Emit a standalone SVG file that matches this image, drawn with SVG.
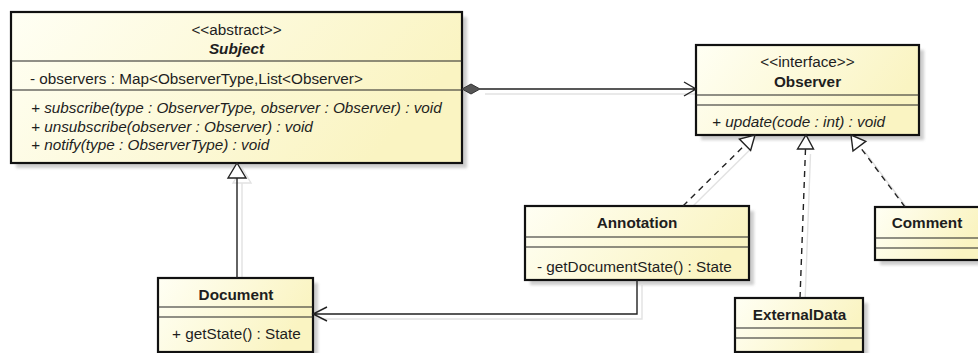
<svg xmlns="http://www.w3.org/2000/svg" width="978" height="353" viewBox="0 0 978 353">
  <defs>
    <linearGradient id="classFill" x1="0" y1="0" x2="1" y2="0.3">
      <stop offset="0" stop-color="#fffff4"/>
      <stop offset="1" stop-color="#faf4c2"/>
    </linearGradient>
    <filter id="soft" x="-10%" y="-10%" width="130%" height="130%">
      <feGaussianBlur stdDeviation="1.6"/>
    </filter>
  </defs>
  <style>
    text { font-family: "Liberation Sans", Arial, sans-serif; font-size: 15.3px; fill: #1e1e1e; }
    .c { text-anchor: middle; }
    .name { font-weight: bold; }
    .abs { font-weight: bold; font-style: italic; }
    .it { font-style: italic; }
    .box { fill: url(#classFill); stroke: #111; stroke-width: 2.2; }
    .shadow { fill: #cdcdcd; filter: url(#soft); }
    .div { stroke: #222; stroke-width: 1.2; }
    .ln { fill: none; stroke: #222; stroke-width: 1.4; }
    .dash { fill: none; stroke: #222; stroke-width: 1.4; stroke-dasharray: 6 5; }
    .hollow { fill: #fff; stroke: #222; stroke-width: 1.4; }
    .ghost { fill: none; stroke: #e2e2e2; stroke-width: 1.4; }
  </style>
  <rect width="978" height="353" fill="#fff"/>

  <!-- faint connector shadows -->
  <g id="connector-shadows" transform="translate(5,5)">
    <path class="ghost" d="M237 178 V278 M228 178 L237 163 L246 178 Z"/>
    <path class="ghost" d="M480 89 H696"/>
    <path class="ghost" d="M637 280 V314 H313"/>
    <path class="ghost" d="M683 206 L745 144.8"/>
    <path class="ghost" d="M800 298 L805.5 149"/>
    <path class="ghost" d="M905 207 L859.4 146.2"/>
  </g>

  <!-- Subject -->
  <g id="subject">
    <rect class="shadow" x="16" y="17" width="451" height="151"/>
    <rect class="box" x="11" y="12" width="451" height="151"/>
    <line class="div" x1="11" y1="61" x2="462" y2="61"/>
    <line class="div" x1="11" y1="90" x2="462" y2="90"/>
    <text class="c" x="236.5" y="35">&lt;&lt;abstract&gt;&gt;</text>
    <text class="c abs" x="236.5" y="54">Subject</text>
    <text x="30" y="84">- observers : Map&lt;ObserverType,List&lt;Observer&gt;</text>
    <text class="it" x="31" y="113">+ subscribe(type : ObserverType, observer : Observer) : void</text>
    <text class="it" x="31" y="131.5">+ unsubscribe(observer : Observer) : void</text>
    <text class="it" x="31" y="150">+ notify(type : ObserverType) : void</text>
  </g>

  <!-- Observer -->
  <g id="observer">
    <rect class="shadow" x="701" y="50" width="223" height="90"/>
    <rect class="box" x="696" y="45" width="223" height="90"/>
    <line class="div" x1="696" y1="95" x2="919" y2="95"/>
    <line class="div" x1="696" y1="105" x2="919" y2="105"/>
    <text class="c" x="807.5" y="67">&lt;&lt;interface&gt;&gt;</text>
    <text class="c name" x="807.5" y="87">Observer</text>
    <text class="it" x="712" y="127">+ update(code : int) : void</text>
  </g>

  <!-- Document -->
  <g id="document">
    <rect class="shadow" x="163" y="283" width="155" height="74"/>
    <rect class="box" x="158" y="278" width="155" height="74"/>
    <line class="div" x1="158" y1="307" x2="313" y2="307"/>
    <line class="div" x1="158" y1="317" x2="313" y2="317"/>
    <text class="c name" x="236" y="300">Document</text>
    <text x="172" y="339">+ getState() : State</text>
  </g>

  <!-- Annotation -->
  <g id="annotation">
    <rect class="shadow" x="530" y="211" width="224" height="74"/>
    <rect class="box" x="525" y="206" width="224" height="74"/>
    <line class="div" x1="525" y1="237" x2="749" y2="237"/>
    <line class="div" x1="525" y1="247" x2="749" y2="247"/>
    <text class="c name" x="637" y="228">Annotation</text>
    <text x="537" y="272">- getDocumentState() : State</text>
  </g>

  <!-- ExternalData -->
  <g id="external-data">
    <rect class="shadow" x="740" y="303" width="128" height="54"/>
    <rect class="box" x="735" y="298" width="128" height="54"/>
    <line class="div" x1="735" y1="328" x2="863" y2="328"/>
    <line class="div" x1="735" y1="338" x2="863" y2="338"/>
    <text class="c name" x="799.5" y="320">ExternalData</text>
  </g>

  <!-- Comment -->
  <g id="comment">
    <rect class="shadow" x="880" y="212" width="105" height="53"/>
    <rect class="box" x="875" y="207" width="105" height="53"/>
    <line class="div" x1="875" y1="238" x2="980" y2="238"/>
    <line class="div" x1="875" y1="248" x2="980" y2="248"/>
    <text class="c name" x="927" y="228">Comment</text>
  </g>

  <!-- connectors -->
  <g id="connectors">
    <!-- Document generalizes Subject -->
    <path class="ln" d="M237 278 V178"/>
    <path class="hollow" d="M228 178 L237 163 L246 178 Z"/>
    <!-- composition Subject -> Observer -->
    <path class="ln" d="M480 89 H696 M684 82 L696 89 L684 96"/>
    <path d="M462 89 L471 84 L480 89 L471 94 Z" fill="#555" stroke="#333" stroke-width="1"/>
    <!-- Annotation -> Document -->
    <path class="ln" d="M637 280 V314 H313 M327 307 L313 314 L327 321"/>
    <!-- realizations of Observer -->
    <path class="dash" d="M683 206 L745 144.8"/>
    <path class="hollow" d="M750.6 150.5 L755 135 L739.4 139.1 Z"/>
    <path class="dash" d="M800 298 L805.5 149"/>
    <path class="hollow" d="M797.5 149 L806 135 L813.5 149 Z"/>
    <path class="dash" d="M905 207 L859.4 146.2"/>
    <path class="hollow" d="M865.8 141.4 L851 135 L853 151 Z"/>
  </g>
</svg>
